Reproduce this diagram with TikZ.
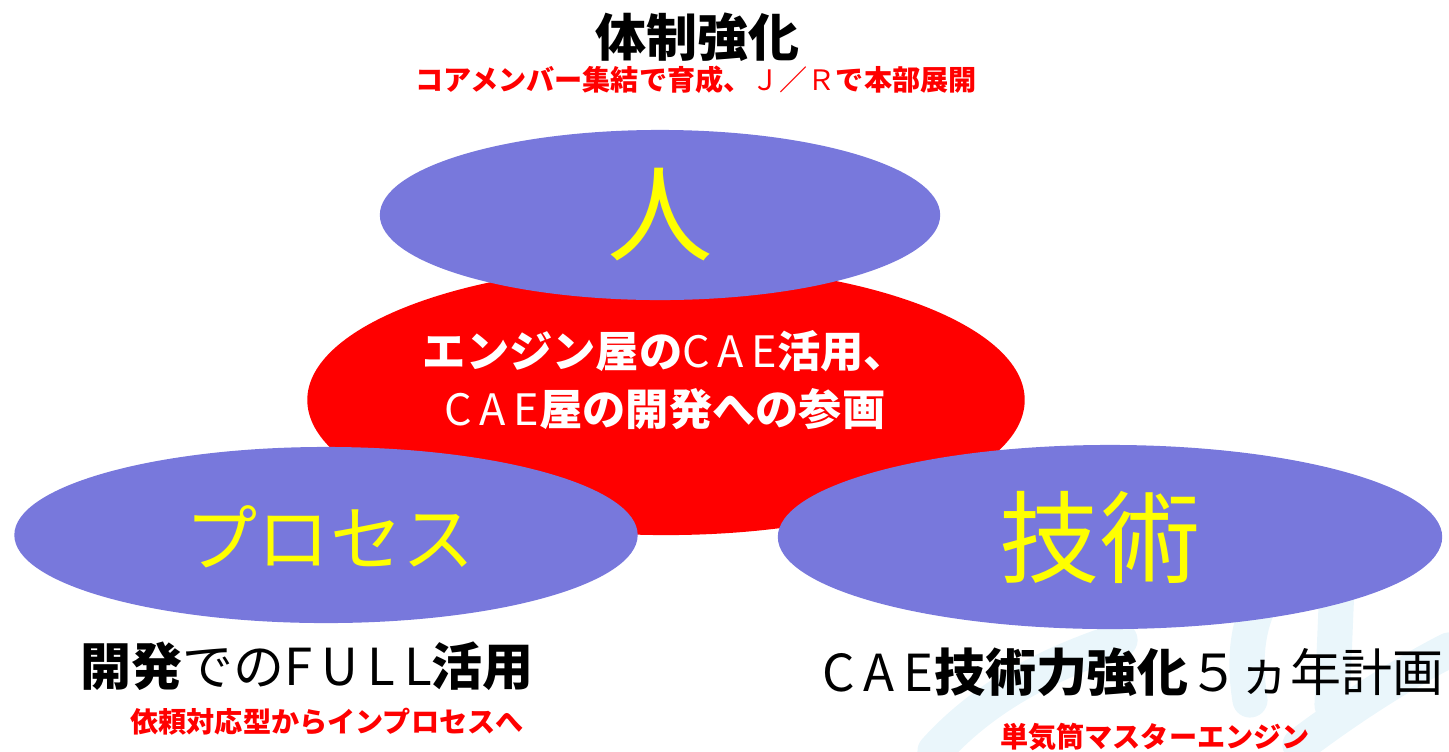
\documentclass[tikz,border=0pt]{standalone}
\usepackage{fontspec}
\newfontfamily\jp{Noto Sans CJK JP}
\newcommand\letrasAnchas[1]{{\addfontfeature{LetterSpace=18}#1}}
\usetikzlibrary{shapes.geometric}

\begin{document}
\begin{tikzpicture}[
    x=0.01cm, y=-0.01cm,
    every node/.style={font=\jp, inner sep=0pt},
    % Estilo de las elipses de los tres pilares (azul)
    elipseAzul/.style={
        ellipse, fill=azulPilar
    },
    % Estilo de la elipse central (roja)
    elipseRoja/.style={
        ellipse, fill=rojoCentro
    },
    % Estilo de las palabras grandes dentro de las elipses
    textoPilar/.style={
        text=amarilloPilar, font=\jp\fontsize{#1}{#1}\selectfont
    },
    % Estilo de los titulos negros
    tituloNegro/.style={
        text=black, font=\jp\fontsize{14.5}{17}\selectfont
    },
    % Estilo de las notas rojas
    notaRoja/.style={
        text=rojoCentro, font=\jp\bfseries\fontsize{8}{10}\selectfont
    },
    % Estilo de la marca de agua del fondo
    marcaAgua/.style={
        line width=10pt, line cap=round, azulFondo
    }
]
    % --- DEFINICIÓN DE COLORES ---
    \definecolor{azulPilar}{RGB}{120, 120, 220}
    \definecolor{rojoCentro}{RGB}{255, 0, 0}
    \definecolor{amarilloPilar}{RGB}{255, 255, 0}
    \definecolor{azulFondo}{RGB}{234, 246, 251}

    \useasboundingbox (0, 0) rectangle (1449, 751);

    % 1. Marca de agua (esquina inferior derecha)
    \draw[marcaAgua] (935, 751) .. controls (990, 690) and (1060, 660) .. (1120, 640);
    \draw[marcaAgua] (1250, 700) .. controls (1240, 640) and (1255, 590) .. (1290, 570);
    \draw[marcaAgua] (1338, 560) -- (1332, 705);
    \draw[marcaAgua] (1300, 745) .. controls (1360, 700) and (1410, 670) .. (1449, 650);

    % 2. Elipse central
    \node[elipseRoja, minimum width=7.17cm, minimum height=2.70cm] (centro) at (666, 400) {};

    % 3. Elipses de los pilares
    \node[elipseAzul, minimum width=5.60cm, minimum height=1.70cm] (persona) at (660, 215) {};
    \node[elipseAzul, minimum width=6.23cm, minimum height=1.76cm] (proceso) at (326, 535) {};
    \node[elipseAzul, minimum width=6.64cm, minimum height=1.84cm] (tecnica) at (1110, 537) {};

    % 4. Palabras de los pilares
    \node[textoPilar=30] (personaTxt) at (660, 215) {人};
    \node[textoPilar=20.5] (procesoTxt) at (330, 537) {プロセス};
    \node[textoPilar=28.5] (tecnicaTxt) at (1100, 537) {技術};

    % 5. Texto de la elipse central
    \node[text=white, align=center, font=\jp\fontsize{12.3}{16.5}\selectfont] (centroTxt) at (665, 380)
        {\bfseries エンジン屋の\mdseries\letrasAnchas{CAE}\bfseries 活用、\\
         \mdseries\letrasAnchas{CAE}\bfseries 屋の開発への参画};

    % 6. Titulos y notas
    \node[tituloNegro] (tituloPersona) at (697, 37) {\bfseries 体制強化};
    \node[notaRoja] (notaPersona) at (696, 80) {コアメンバー集結で育成、\mdseries Ｊ／Ｒ\bfseries で本部展開};

    \node[tituloNegro] (tituloProceso) at (307, 666) {\bfseries 開発\mdseries での\letrasAnchas{FULL}\bfseries 活用};
    \node[notaRoja] (notaProceso) at (327, 722) {依頼対応型からインプロセスへ};

    \node[tituloNegro] (tituloTecnica) at (1133, 672) {\letrasAnchas{CAE}\bfseries 技術力強化\mdseries ５ヵ年計画};
    \node[notaRoja] (notaTecnica) at (1155, 737) {単気筒マスターエンジン};

\end{tikzpicture}
\end{document}
